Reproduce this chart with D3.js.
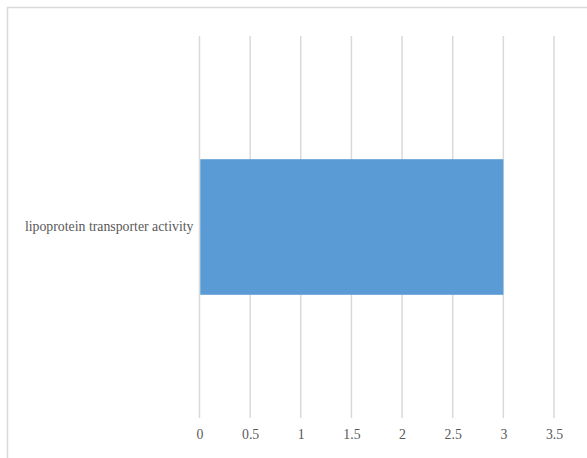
<!DOCTYPE html>
<html>
<head>
<meta charset="utf-8">
<script src="https://cdn.jsdelivr.net/npm/d3@7"></script>
<style>
  html, body { margin: 0; padding: 0; background: #ffffff; }
  svg { display: block; }
  svg text { font-family: "Liberation Serif", "Times New Roman", serif; }
</style>
</head>
<body>
<svg id="chart" width="587" height="458"></svg>
<script>
// Chart data
const categories = ["lipoprotein transporter activity"];
const values = [3];
const tickValues = [0, 0.5, 1, 1.5, 2, 2.5, 3, 3.5];

const width = 587, height = 458;
const plot = { left: 199.5, right: 554, top: 36, bottom: 418 };
const fontFamily = "'Liberation Serif', 'Times New Roman', serif";
const fontSize = 13.8;

const svg = d3.select("#chart");

// Outer frame (open on the right and bottom edges)
svg.append("path")
  .attr("d", `M7.5,458 L7.5,7.5 L587,7.5`)
  .attr("fill", "none")
  .attr("stroke", "#d9d9d9")
  .attr("stroke-width", 1.5);

const x = d3.scaleLinear().domain([0, 3.5]).range([plot.left, plot.right]);
const y = d3.scaleBand()
  .domain(categories)
  .range([plot.top, plot.bottom])
  .paddingInner(0.645)
  .paddingOuter(0.3225);

// Vertical gridlines
svg.append("g")
  .selectAll("line")
  .data(tickValues)
  .join("line")
  .attr("x1", d => x(d)).attr("x2", d => x(d))
  .attr("y1", plot.top).attr("y2", plot.bottom)
  .attr("stroke", "#d9d9d9")
  .attr("stroke-width", 1.5);

// Bars
svg.append("g")
  .selectAll("rect")
  .data(values)
  .join("rect")
  .attr("x", x(0) + 0.75)
  .attr("y", (d, i) => y(categories[i]))
  .attr("width", d => x(d) - x(0) - 0.75)
  .attr("height", y.bandwidth())
  .attr("fill", "#5b9bd5");

// X axis tick labels
const xAxis = d3.axisBottom(x)
  .tickValues(tickValues)
  .tickSize(0)
  .tickPadding(0)
  .tickFormat(d3.format("~g"));
const gx = svg.append("g")
  .attr("transform", `translate(0,${plot.bottom + 21})`)
  .call(xAxis)
  .attr("font-family", fontFamily)
  .attr("font-size", fontSize);
gx.select(".domain").remove();
gx.selectAll("text")
  .attr("dy", null)
  .attr("fill", "#595959");

// Category labels
const yAxis = d3.axisLeft(y).tickSize(0).tickPadding(6);
const gy = svg.append("g")
  .attr("transform", `translate(${plot.left},0)`)
  .call(yAxis)
  .attr("font-family", fontFamily)
  .attr("font-size", fontSize);
gy.select(".domain").remove();
gy.selectAll("text")
  .attr("fill", "#595959");
</script>
</body>
</html>
